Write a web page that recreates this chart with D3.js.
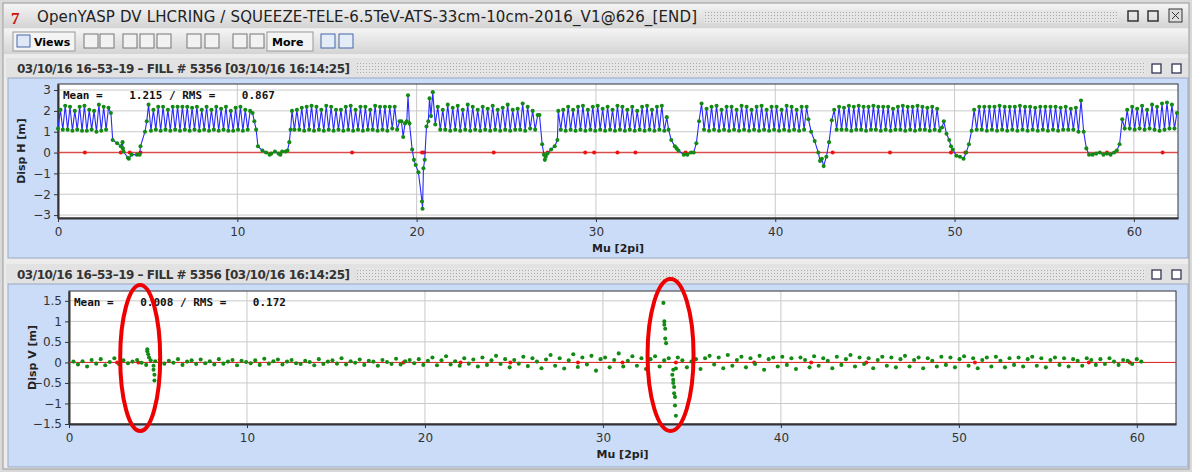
<!DOCTYPE html>
<html><head><meta charset="utf-8">
<script src="https://cdn.jsdelivr.net/npm/d3@7"></script>
<style>body{margin:0;background:#fff;}svg{display:block;font-family:"DejaVu Sans",sans-serif;}</style>
</head><body><svg id="c" width="1192" height="472"></svg>
<script>
// ---- horizontal dispersion: arcs (evenly spaced monitors) + insertion regions
let arcStart = [0.0, 5.05, 13.05, 20.9, 27.9, 35.75, 43.15, 50.95, 59.35];
let arcEnd   = [2.95, 10.85, 19.05, 26.75, 33.95, 41.75, 49.3, 57.05, 62.4];
let arcVals = [
  [1.15,2.05,1.1,2.25,1.1,2.2,1.05,2.0,1.1,2.2,1.05,2.25,1.05,2.05,1.1,2.0,1.0,2.3,1.05,2.2,1.1,2.15,1.9],
  [2.3,1.05,2.05,1.1,2.2,1.05,2.2,1.1,2.05,1.05,2.2,1.1,2.2,1.05,2.2,1.1,2.2,1.05,2.15,1.1,2.2,1.05,2.05,1.1,2.2,1.05,2.05,1.1,2.2,1.05,2.1,1.1,2.2,1.05,2.0,1.05,2.15,1.1,2.2,1.05,2.05,1.1,2.0,1.9],
  [2.0,1.1,2.05,1.1,2.15,1.05,2.2,1.1,2.25,1.05,2.2,1.1,2.05,1.05,2.25,1.1,2.2,1.05,2.05,1.1,2.05,1.05,2.2,1.1,2.25,1.05,2.05,1.1,2.2,1.05,2.2,1.1,2.05,1.1,2.25,1.05,2.2,1.1,2.2,1.05,2.2,1.15,2.2,1.1,1.5],
  [2.9,1.35,2.2,1.1,2.05,1.1,2.3,1.05,2.15,1.1,2.25,1.05,2.05,1.1,2.3,1.05,2.2,1.1,2.05,1.05,2.2,1.1,2.1,1.05,2.25,1.1,2.05,1.05,2.15,1.1,2.3,1.05,2.05,1.1,2.1,1.1,2.35,1.05,2.2,1.15,2.0,1.1,1.8],
  [2.0,1.1,2.05,1.05,2.2,1.1,2.05,1.05,2.2,1.1,2.25,1.05,2.05,1.1,2.2,1.05,2.25,1.1,2.1,1.05,2.2,1.1,2.05,1.05,2.25,1.1,2.2,1.05,2.05,1.1,2.2,1.05,2.0,1.1,2.2,1.05,2.25,1.1,2.05,1.05,2.2,1.1,2.25,1.05,1.7],
  [1.5,2.35,1.1,2.1,1.05,2.2,1.1,2.25,1.05,2.05,1.1,2.2,1.05,2.2,1.1,2.05,1.05,2.25,1.1,2.2,1.05,2.05,1.1,2.2,1.05,2.25,1.1,2.05,1.05,2.2,1.1,2.2,1.05,2.05,1.1,2.25,1.05,2.2,1.1,2.05,1.05,2.2,1.1,2.2],
  [1.55,2.05,1.1,2.2,1.1,2.15,1.1,2.25,1.05,2.2,1.1,2.25,1.1,2.2,1.05,2.2,1.1,2.25,1.1,2.2,1.05,2.2,1.1,2.2,1.05,2.1,1.1,2.2,1.1,2.25,1.05,2.2,1.1,2.2,1.05,2.25,1.1,2.2,1.1,2.15,1.05,2.2,1.1,2.1,1.05,1.2],
  [1.05,2.05,1.1,2.2,1.1,2.2,1.05,2.2,1.1,2.2,1.05,2.25,1.1,2.2,1.05,2.2,1.1,2.2,1.05,2.25,1.1,2.2,1.05,2.2,1.1,2.15,1.05,2.2,1.1,2.2,1.05,2.2,1.1,2.2,1.05,2.15,1.1,2.2,1.1,2.1,1.1,2.15,1.0,2.5],
  [1.6,1.15,2.05,1.15,2.2,1.1,2.1,1.15,2.25,1.1,2.05,1.15,2.3,1.1,2.2,1.05,2.35,1.1,2.4,1.15,2.3,1.15,1.9]
];
let dipMu = [3.05,3.3,3.5,3.6,3.62,3.65,3.9,3.95,4.1,4.4,4.55,4.6,4.85,4.95,
  10.95,11.05,11.15,11.4,11.6,11.8,11.9,12.1,12.3,12.4,12.5,12.7,12.8,12.9,12.97,
  19.15,19.25,19.35,19.45,19.52,19.6,19.75,19.85,19.95,20.1,20.3,20.33,20.38,20.45,20.55,20.65,20.72,20.8,
  26.85,27.0,27.1,27.15,27.2,27.3,27.5,27.7,27.85,
  34.05,34.2,34.4,34.5,34.6,34.9,35.1,35.3,35.45,35.6,
  41.85,42.0,42.2,42.4,42.5,42.6,42.7,42.85,43.0,
  49.4,49.55,49.7,49.8,49.9,50.1,50.3,50.5,50.65,50.8,
  57.2,57.35,57.5,57.7,57.9,58.1,58.3,58.5,58.7,58.9,59.05,59.2];
let dipH = [0.6,0.45,0.3,0.5,0.2,0.05,-0.25,-0.3,-0.1,-0.1,-0.1,0.3,1.0,1.5,
  1.5,1.1,0.3,0.1,0.0,-0.1,-0.05,0.05,-0.05,-0.1,0.05,0.05,0.1,0.5,1.1,
  1.5,0.75,1.4,1.5,2.75,1.4,0.15,-0.35,-0.6,-0.95,-2.35,-2.7,-0.75,-0.35,1.25,1.5,2.6,1.75,
  1.8,0.4,-0.1,-0.35,-0.2,-0.05,0.15,0.3,0.6,
  1.1,0.6,0.3,0.2,0.1,-0.1,-0.1,0.0,0.0,0.45,
  1.6,1.0,0.55,0.0,-0.4,-0.3,-0.65,-0.2,0.5,
  1.5,0.9,0.6,0.3,0.15,-0.15,-0.2,-0.3,0.0,0.4,
  1.0,0.2,-0.1,-0.1,-0.05,0.0,-0.1,-0.05,-0.1,0.0,0.1,0.4];
let refMuH = [1.5,3.5,4.0,4.6,16.4,20.3,20.4,24.3,27.3,29.4,29.9,31.2,32.2,35.0,43.2,46.4,49.8,50.6,58.5,61.6];

// ---- vertical dispersion: monitors every 0.25 mu starting at 0.25
let noiseStart = 0.25, noiseEnd = 60.25;
let noiseV = [
 0.02,-0.05,0.03,-0.1,0.06,-0.03,0.08,-0.07,0.01,0.1,-0.04,0.05,-0.02,0.02,0.06,-0.01,
 -0.06,0.05,0.03,0.07,-0.03,0.04,-0.01,0.08,-0.06,0.02,0.05,-0.04,0.07,-0.02,0.03,-0.05,
 0.08,-0.03,0.02,0.06,-0.07,0.04,0.01,-0.02,0.05,-0.06,0.09,-0.03,0.03,0.07,-0.05,0.02,
 0.06,-0.02,-0.04,0.04,0.01,-0.07,0.08,-0.04,0.02,0.05,-0.03,0.1,-0.05,0.03,-0.01,0.07,
 -0.06,0.04,0.02,-0.08,0.06,0.01,-0.04,0.09,-0.05,0.03,0.06,-0.02,0.08,-0.06,0.04,0.12,
 -0.07,0.05,0.15,-0.05,0.03,-0.08,0.1,-0.03,0.07,-0.1,0.12,-0.06,0.05,0.16,-0.04,0.08,
 -0.12,0.06,-0.03,0.14,-0.09,0.1,0.02,-0.14,0.07,0.18,-0.08,0.1,-0.15,0.05,0.2,-0.11,
 0.12,-0.05,0.16,-0.2,0.08,0.12,-0.12,0.06,0.22,-0.1,0.04,0.15,-0.08,0.1,-0.16,0.08,
 0.15,-0.1,0.05,0.1,-0.18,0.12,0.05,-0.12,0.02,0.08,-0.16,0.1,0.16,-0.05,0.12,-0.14,
 0.18,-0.08,0.06,0.14,-0.12,0.1,-0.04,0.16,-0.18,0.08,0.12,-0.1,0.14,-0.06,0.1,-0.16,
 0.12,0.06,-0.12,0.15,-0.08,0.1,0.04,-0.14,0.14,-0.06,0.08,0.18,-0.1,0.12,-0.04,0.1,
 -0.14,0.06,0.14,-0.08,0.12,-0.12,0.08,0.16,-0.1,0.06,0.12,-0.14,0.1,0.04,-0.1,0.14,
 -0.06,0.12,-0.12,0.08,0.15,-0.08,0.1,-0.14,0.06,0.12,-0.1,0.14,0.04,-0.12,0.1,-0.06,
 0.12,-0.1,0.08,0.14,-0.08,0.1,-0.12,0.06,0.12,-0.06,0.1,-0.1,0.08,0.04,-0.08,0.1,
 0.06,-0.06,0.08,-0.04,0.1,0.02,-0.06,0.06,0.04,-0.04,0.08,0.02];
let spikeMu = [4.4,4.4,4.45,4.5,4.75,4.75,4.8,4.8,33.4,33.45,33.45,33.5,33.5,33.55,33.9,33.95,33.95,34.0,34.0,34.05,34.05,34.1,34.1];
let spikeV  = [0.32,0.27,0.2,0.12,-0.08,-0.18,-0.3,-0.44,1.45,1.0,0.92,0.82,0.58,0.47,-0.3,-0.42,-0.5,-0.6,-0.75,-0.84,-1.05,-1.3,-0.15];
let refMuV = [2.7,3.9,18.8,22.0,24.8,28.6,31.1,34.1,38.5,41.7,44.8,50.9,57.3,59.6];

let hTicks = [-3,-2,-1,0,1,2,3];
let vTicks = [-1.5,-1,-0.5,0,0.5,1,1.5];
let muTicks = [0,10,20,30,40,50,60];

// build point lists
let hSrc = [];
arcVals.forEach((vals,k)=>{ vals.forEach((v,i)=>hSrc.push([arcStart[k]+(arcEnd[k]-arcStart[k])*i/(vals.length-1),v])); });
dipMu.forEach((m,i)=>hSrc.push([m,dipH[i]]));
let hPts = hSrc.sort((a,b)=>a[0]-b[0]);
let vPts = noiseV.map((v,i)=>[noiseStart+(noiseEnd-noiseStart)*i/(noiseV.length-1),v]);
spikeMu.forEach((m,i)=>vPts.push([m,spikeV[i]]));

const svg = d3.select('#c');
const F = '"DejaVu Sans",sans-serif';

// ---- window chrome
svg.append('rect').attr('width',1192).attr('height',472).attr('fill','#d9d9d9');
svg.append('rect').attr('x',3).attr('y',3).attr('width',1186).attr('height',466).attr('fill','#ececec').attr('stroke','#9a9a9a');
let tg = svg.append('defs').append('linearGradient').attr('id','tb').attr('x1',0).attr('x2',0).attr('y1',0).attr('y2',1);
tg.append('stop').attr('offset',0).attr('stop-color','#f4f4f4');
tg.append('stop').attr('offset',1).attr('stop-color','#d4d4d4');
let pat = svg.select('defs').append('pattern').attr('id','dots').attr('width',3).attr('height',3).attr('patternUnits','userSpaceOnUse');
pat.append('rect').attr('width',3).attr('height',3).attr('fill','#e6e6e6');
pat.append('rect').attr('width',1).attr('height',1).attr('fill','#a8a8a8');
svg.append('rect').attr('x',4).attr('y',4).attr('width',1184).attr('height',24).attr('fill','url(#tb)');
svg.append('text').attr('x',11).attr('y',24).attr('fill','#cc1100').attr('font-weight','bold').attr('font-size',17).attr('font-family','serif').text('7');
svg.append('text').attr('x',37).attr('y',22).attr('font-size',15).attr('textLength',660).attr('font-family',F).attr('fill','#222')
  .text('OpenYASP DV LHCRING / SQUEEZE-TELE-6.5TeV-ATS-33cm-10cm-2016_V1@626_[END]');
svg.append('rect').attr('x',704).attr('y',10).attr('width',414).attr('height',13).attr('fill','url(#dots)');
[1128,1148].forEach(x=>svg.append('rect').attr('x',x).attr('y',11).attr('width',10).attr('height',10).attr('fill','none').attr('stroke','#333').attr('stroke-width',1.5));
svg.append('rect').attr('x',1169).attr('y',9).attr('width',13).attr('height',13).attr('fill','#ddd').attr('stroke','#333');
svg.append('path').attr('d','M1172,12L1179,19M1179,12L1172,19').attr('stroke','#333');

// toolbar
svg.append('rect').attr('x',4).attr('y',29).attr('width',1184).attr('height',25).attr('fill','url(#tb)');
svg.append('rect').attr('x',13).attr('y',32).attr('width',62).attr('height',19).attr('fill','#f4f4f4').attr('stroke','#999');
svg.append('rect').attr('x',17).attr('y',35).attr('width',13).attr('height',12).attr('fill','#dfe8f6').attr('stroke','#4466aa');
svg.append('text').attr('x',34).attr('y',46).attr('font-size',11).attr('font-weight','bold').attr('font-family',F).text('Views');
let icons = [84,100,123,140,157,187,205,233,250];
icons.forEach(x=>svg.append('rect').attr('x',x).attr('y',34).attr('width',14).attr('height',14).attr('fill','#f2f2f2').attr('stroke','#777'));
svg.append('rect').attr('x',267).attr('y',32).attr('width',46).attr('height',19).attr('fill','#f4f4f4').attr('stroke','#999');
svg.append('text').attr('x',272).attr('y',46).attr('font-size',11).attr('font-weight','bold').attr('font-family',F).text('More');
[321,339].forEach(x=>svg.append('rect').attr('x',x).attr('y',34).attr('width',14).attr('height',14).attr('fill','#e4ecf8').attr('stroke','#4466aa'));

// ---- panel drawing
function panel(y0, h, cfg){
  svg.append('rect').attr('x',6).attr('y',y0).attr('width',1182).attr('height',20).attr('fill','#e2e2e2');
  svg.append('text').attr('x',17).attr('y',y0+15).attr('font-size',12).attr('textLength',333).attr('font-weight','bold').attr('font-family',F).attr('fill','#333')
    .text('03/10/16 16\u201353\u201319 \u2013 FILL # 5356  [03/10/16 16:14:25]');
  svg.append('rect').attr('x',357).attr('y',y0+4).attr('width',788).attr('height',12).attr('fill','url(#dots)');
  [1152,1172].forEach(x=>svg.append('rect').attr('x',x).attr('y',y0+6).attr('width',9).attr('height',9).attr('fill','#fff').attr('stroke','#335').attr('stroke-width',1.3));
  svg.append('rect').attr('x',8).attr('y',y0+20).attr('width',1180).attr('height',h).attr('fill','#cbdcf8').attr('stroke','#9aa8c0');

  let x = d3.scaleLinear().domain(cfg.xd).range([cfg.l,cfg.r]);
  let y = d3.scaleLinear().domain(cfg.yd).range([cfg.b,cfg.t]);
  let g = svg.append('g');
  g.append('rect').attr('x',cfg.l).attr('y',cfg.t).attr('width',cfg.r-cfg.l).attr('height',cfg.b-cfg.t).attr('fill','#fff');
  g.selectAll('.gy').data(cfg.yt).join('line').attr('x1',cfg.l).attr('x2',cfg.r).attr('y1',d=>y(d)).attr('y2',d=>y(d)).attr('stroke','#c9c9c9');
  g.selectAll('.gx').data(muTicks).join('line').attr('y1',cfg.t).attr('y2',cfg.b).attr('x1',d=>x(d)).attr('x2',d=>x(d)).attr('stroke','#c9c9c9');
  g.append('rect').attr('x',cfg.l).attr('y',cfg.t).attr('width',cfg.r-cfg.l).attr('height',cfg.b-cfg.t).attr('fill','none').attr('stroke','#333');
  let ya = g.append('g').attr('transform',`translate(${cfg.l},0)`).call(d3.axisLeft(y).tickValues(cfg.yt).tickSize(4).tickSizeOuter(0).tickFormat(d3.format('')));
  let xa = g.append('g').attr('transform',`translate(0,${cfg.b})`).call(d3.axisBottom(x).tickValues(muTicks).tickSize(4).tickSizeOuter(0).tickPadding(5));
  [ya,xa].forEach(a=>{a.select('.domain').attr('stroke','#333').attr('stroke-width',2);a.selectAll('text').attr('font-size',12).attr('font-family',F).attr('fill','#333');a.selectAll('line').attr('stroke','#333');});
  ya.selectAll('text').text(d=>d<0?'\u2212'+Math.abs(d):d);
  g.append('text').attr('transform',`translate(${cfg.l-33},${(cfg.t+cfg.b)/2}) rotate(-90)`).attr('text-anchor','middle')
    .attr('font-size',11).attr('font-weight','bold').attr('font-family',F).attr('fill','#222').text(cfg.ylab);
  g.append('text').attr('x',cfg.l+(cfg.r-cfg.l)/2).attr('y',cfg.b+34).attr('text-anchor','middle').attr('font-size',11).attr('font-weight','bold').attr('font-family',F).attr('fill','#222').text('Mu [2pi]');

  let c = g.append('g');
  c.append('line').attr('x1',cfg.l).attr('x2',cfg.r).attr('y1',y(0)).attr('y2',y(0)).attr('stroke','#dd2222').attr('stroke-width',cfg.line?1.5:1).attr('opacity',cfg.line?0.75:1);
  c.selectAll('.rp').data(cfg.ref).join('circle').attr('cx',d=>x(d)).attr('cy',y(0)).attr('r',2).attr('fill','#ee1111');
  if(cfg.line) c.append('path').datum(cfg.pts).attr('d',d3.line().x(d=>x(d[0])).y(d=>y(d[1]))).attr('fill','none').attr('stroke','#2a2aff').attr('stroke-width',1.1);
  c.selectAll('.p').data(cfg.pts).join('path').attr('transform',d=>`translate(${x(d[0])},${y(d[1])})`)
    .attr('d',d3.symbol(d3.symbolCircle,13)).attr('fill','#138a13');
  g.append('text').attr('x',cfg.l+5).attr('y',cfg.t+15).attr('font-size',11).attr('font-weight','bold')
    .attr('font-family','"DejaVu Sans Mono",monospace').attr('xml:space','preserve').style('white-space','pre').attr('fill','#111').text(cfg.stat);
  return {x,y};
}

panel(58, 180, {xd:[0,62.46], yd:[-3.14,3.29], l:58, r:1178, t:84, b:218, yt:hTicks, ylab:'Disp H [m]',
  pts:hPts, ref:refMuH, line:true, stat:'Mean =    1.215 / RMS =    0.867'});
let pv = panel(264, 183, {xd:[0,62.2], yd:[-1.5,1.74], l:69, r:1176, t:291, b:424, yt:vTicks, ylab:'Disp V [m]',
  pts:vPts, ref:refMuV, line:false, stat:'Mean =    0.008 / RMS =    0.172'});

// red annotation ellipses
[[4.0,358,20,73],[33.8,355,23,76]].forEach(e=>svg.append('ellipse').attr('cx',pv.x(e[0])).attr('cy',e[1]).attr('rx',e[2]).attr('ry',e[3])
  .attr('fill','none').attr('stroke','#ee0000').attr('stroke-width',4));
</script></body></html>
